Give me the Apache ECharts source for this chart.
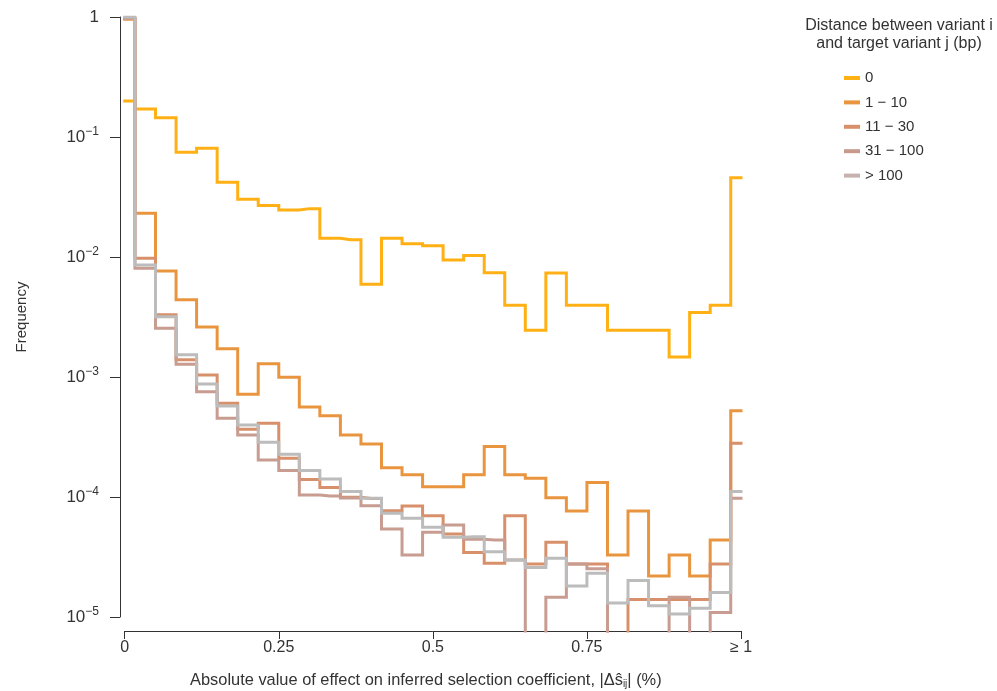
<!DOCTYPE html>
<html><head><meta charset="utf-8">
<script src="https://cdn.jsdelivr.net/npm/echarts@6/dist/echarts.min.js"></script>
<style>html,body{margin:0;padding:0;background:#fff}#c{width:997px;height:691px}</style>
</head><body><div id="c"></div>
<script>
// bin centres (fraction of 1%), last bin is ">= 1"
const binCenters = [0, 0.0333, 0.0667, 0.1, 0.1333, 0.1667, 0.2, 0.2333, 0.2667, 0.3, 0.3333,
  0.3667, 0.4, 0.4333, 0.4667, 0.5, 0.5333, 0.5667, 0.6, 0.6333, 0.6667,
  0.7, 0.7333, 0.7667, 0.8, 0.8333, 0.8667, 0.9, 0.9333, 0.9667, 1];
const seriesNames = ['0', '1 \u2212 10', '11 \u2212 30', '31 \u2212 100', '> 100'];
// 1e-6 marks a frequency below the plotted range
const freqDist0 = [0.2, 0.171, 0.145, 0.0745, 0.0805, 0.0419, 0.0303, 0.0268, 0.0247, 0.0253, 0.0143,
  0.0139, 0.00592, 0.0143, 0.0129, 0.0124, 0.00944, 0.0103, 0.0074, 0.00396, 0.00245,
  0.00736, 0.00396, 0.00396, 0.00245, 0.00245, 0.00245, 0.00147, 0.00344, 0.00396, 0.0458];
const freqDist1to10 = [0.96, 0.0231, 0.00764, 0.0044, 0.00261, 0.00172, 0.000718, 0.00129, 0.000994, 0.000562, 0.000476,
  0.000329, 0.000277, 0.000175, 0.000153, 0.000122, 0.000122, 0.000153, 0.000263, 0.000153, 0.000143,
  0.0000987, 0.0000764, 0.000132, 0.0000329, 0.0000764, 0.000022, 0.0000329, 0.000022, 0.0000438, 0.000524];
const freqDist11to30 = [0.97, 0.00976, 0.0033, 0.00139, 0.00104, 0.000604, 0.000367, 0.000411, 0.00021, 0.00014, 0.00012,
  0.0000994, 0.000097, 0.0000769, 0.0000841, 0.0000699, 0.0000492, 0.0000344, 0.000028, 0.0000699, 0.0000277,
  0.0000419, 0.0000277, 0.0000277, 1e-6, 0.000014, 0.000014, 0.000014, 0.000014, 0.0000277, 0.00028];
const freqDist31to100 = [0.97, 0.00805, 0.00255, 0.00128, 0.000755, 0.000453, 0.000329, 0.000203, 0.000166, 0.000104, 0.000102,
  0.000098, 0.0000847, 0.0000541, 0.0000329, 0.0000508, 0.0000585, 0.0000445, 0.0000438, 0.0000299, 1e-6,
  0.0000146, 0.0000277, 0.0000253, 1e-6, 1e-6, 1e-6, 0.0000146, 1e-6, 0.0000109, 0.0000975];
const freqDistOver100 = [1.0, 0.00858, 0.00318, 0.00153, 0.000875, 0.000573, 0.000398, 0.000286, 0.000227, 0.000166, 0.000141,
  0.000111, 0.0000975, 0.0000731, 0.0000665, 0.0000559, 0.0000461, 0.0000467, 0.000035, 0.0000299, 0.0000259,
  0.0000308, 0.0000181, 0.0000231, 0.0000131, 0.0000201, 0.0000124, 0.0000106, 0.0000118, 0.000016, 0.000111];
const xTickValues = [0, 0.25, 0.5, 0.75, 1];
const xTickLabels = ['0', '0.25', '0.5', '0.75', '\u2265 1'];
const yTickValues = [1, 0.1, 0.01, 0.001, 0.0001, 0.00001];

const allSeries = [freqDist0, freqDist1to10, freqDist11to30, freqDist31to100, freqDistOver100];
const colors = ['#FFB014', '#E99540', '#D8906B', '#C89C90', '#BDBCBC'];
const legendColors = ['#FFB014', '#E99540', '#D8906B', '#C99A8B', '#C6B3B0'];
const FONT = 'Liberation Sans, Arial, sans-serif';
const TXT = '#333333';

const chart = echarts.init(document.getElementById('c'));
const option = {
  animation: false,
  backgroundColor: '#ffffff',
  textStyle: { fontFamily: FONT },
  title: {
    text: 'Distance between variant i\nand target variant j (bp)',
    left: 894, top: 12, textAlign: 'center',
    textStyle: { fontSize: 16, fontWeight: 'normal', color: TXT, lineHeight: 18, fontFamily: FONT }
  },
  legend: {
    orient: 'vertical', left: 844, top: 69.5, padding: 0, itemWidth: 16, itemHeight: 4, itemGap: 7.4,
    icon: 'rect',
    data: seriesNames.map((n, i) => ({ name: n, itemStyle: { color: legendColors[i] } })),
    textStyle: { fontSize: 15, color: TXT, lineHeight: 17, fontFamily: FONT }
  },
  grid: [
    { left: 124.7, right: 256, top: 17, bottom: 60, containLabel: false, outerBoundsMode: 'none' },
    { left: 120, right: 256, top: 17, bottom: 74, containLabel: false, outerBoundsMode: 'none' }
  ],
  xAxis: [
    {
      gridIndex: 0, type: 'value', min: 0, max: 1, interval: 0.25,
      axisLine: { lineStyle: { color: TXT, width: 1 } },
      axisTick: { length: 8, lineStyle: { color: TXT } },
      splitLine: { show: false },
      axisLabel: {
        margin: 9, fontSize: 16, color: TXT, fontFamily: FONT,
        formatter: v => { const i = xTickValues.findIndex(t => Math.abs(t - v) < 1e-9); return i >= 0 ? xTickLabels[i] : ''; }
      },
      name: '{a|Absolute value of effect on inferred selection coefficient, |\u0394\u015d}{s|ij}{a|| (%)}',
      nameLocation: 'middle', nameGap: 40,
      nameTextStyle: {
        color: TXT, fontFamily: FONT, padding: [0, 14, 0, 0],
        rich: {
          a: { fontSize: 16.4, color: TXT, fontFamily: FONT },
          s: { fontSize: 10, color: TXT, fontFamily: FONT, padding: [8, 0, 0, 0] }
        }
      }
    },
    { gridIndex: 1, type: 'value', min: 0, max: 1, show: false }
  ],
  yAxis: [
    { gridIndex: 0, type: 'log', logBase: 10, min: Math.pow(10, -5 - 14 / 120), max: 1, show: false },
    {
      gridIndex: 1, type: 'log', logBase: 10, min: 1e-5, max: 1,
      axisLine: { show: true, lineStyle: { color: TXT, width: 1 } },
      axisTick: { show: true, length: 10, lineStyle: { color: TXT } },
      splitLine: { show: false },
      minorTick: { show: false },
      axisLabel: {
        margin: 21, color: TXT, fontFamily: FONT,
        formatter: v => {
          const n = Math.round(-Math.log10(v));
          if (!yTickValues.some(t => Math.abs(Math.log10(t) + n) < 1e-6)) return '';
          return n === 0 ? '{b|1}' : '{b|10}{s|\u2212' + n + '}';
        },
        rich: {
          b: { fontSize: 17, color: TXT, fontFamily: FONT },
          s: { fontSize: 12, color: TXT, fontFamily: FONT, padding: [0, 0, 10, 0] }
        }
      },
      name: 'Frequency', nameLocation: 'middle', nameGap: 91,
      nameTextStyle: { fontSize: 15, color: TXT, fontFamily: FONT }
    }
  ],
  series: allSeries.map((vals, i) => ({
    name: seriesNames[i],
    type: 'line',
    xAxisIndex: 0, yAxisIndex: 0,
    step: 'middle',
    showSymbol: false, symbol: 'none',
    clip: true,
    color: colors[i],
    lineStyle: { width: 3, color: colors[i], join: 'miter', cap: 'square' },
    data: vals.map((v, k) => [binCenters[k], v]),
    z: 2 + i
  }))
};
chart.setOption(option);
</script></body></html>
